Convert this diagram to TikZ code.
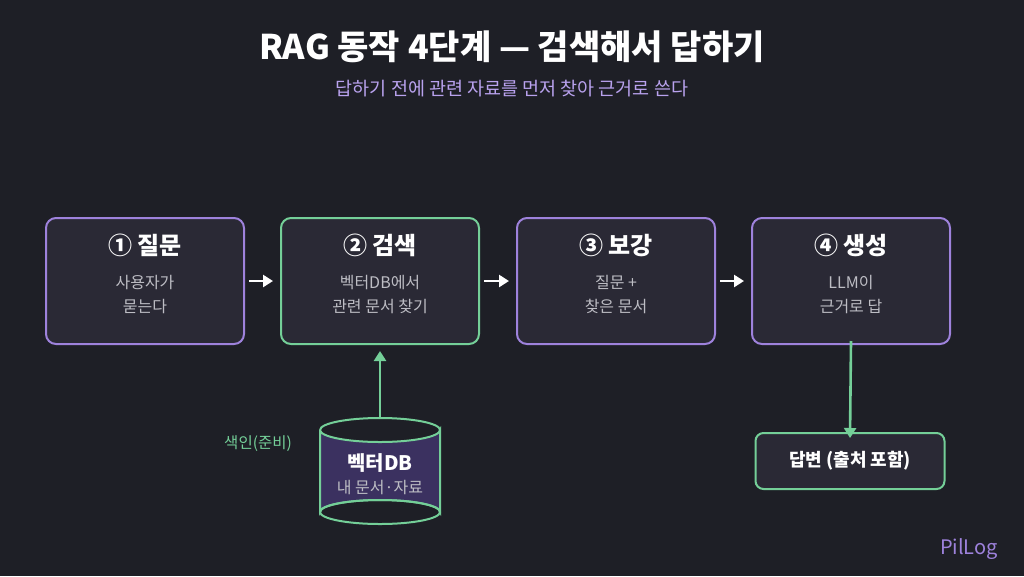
\documentclass[tikz,border=0pt]{standalone}
\usepackage{fontspec}
\setmainfont{Noto Sans CJK KR}
\usetikzlibrary{arrows.meta}
\definecolor{bg}{HTML}{1E1F26}
\definecolor{boxfill}{HTML}{2A2935}
\definecolor{pur}{HTML}{9E82DC}
\definecolor{grn}{HTML}{74CF98}
\definecolor{subc}{HTML}{B9A2EE}
\definecolor{txtg}{HTML}{BDBDC4}
\definecolor{cylf}{HTML}{3B3160}
\tikzset{
 stepbox/.style={draw, line width=2pt, rounded corners=10pt, fill=boxfill, minimum width=198pt, minimum height=126pt, anchor=north west},
 ttl/.style={text=white, font=\fontsize{24}{26}\selectfont\bfseries},
 sub/.style={text=txtg, font=\fontsize{16}{24}\selectfont, align=center},
 warr/.style={draw=white, line width=2.6pt, -{Triangle[length=10pt,width=12pt]}},
 garr/.style={draw=grn, line width=2.6pt, -{Triangle[length=10pt,width=12pt]}},
}
\begin{document}
\begin{tikzpicture}[x=1pt,y=-1pt]
\fill[bg] (0,0) rectangle (1024,576);
\useasboundingbox (0,0) rectangle (1024,576);
\node[text=white, font=\fontsize{34}{38}\selectfont\bfseries] (title) at (512,47) {RAG 동작 4단계 — 검색해서 답하기};
\node[text=subc, font=\fontsize{18.5}{22}\selectfont] (subt) at (512,89) {답하기 전에 관련 자료를 먼저 찾아 근거로 쓴다};
\node[stepbox, draw=pur] (b1) at (45,217) {};
\node[stepbox, draw=grn] (b2) at (280,217) {};
\node[stepbox, draw=pur] (b3) at (516,217) {};
\node[stepbox, draw=pur] (b4) at (751,217) {};
\foreach \b/\t/\s in {b1/① 질문/사용자가\\묻는다, b2/② 검색/벡터DB에서\\관련 문서 찾기, b3/③ 보강/질문 +\\찾은 문서, b4/④ 생성/LLM이\\근거로 답}{
 \node[ttl] at ([yshift=-28pt]\b.north) {\t};
 \node[sub] at ([yshift=-78pt]\b.north) {\s};
}
\draw[warr] ([xshift=4pt]b1.east) -- ([xshift=-7pt]b2.west);
\draw[warr] ([xshift=4pt]b2.east) -- ([xshift=-7pt]b3.west);
\draw[warr] ([xshift=4pt]b3.east) -- ([xshift=-7pt]b4.west);
% cylinder
\draw[grn, line width=2pt, fill=cylf] (320,430) -- (320,512) arc[start angle=180,end angle=360,x radius=60,y radius=12] -- (440,430) arc[start angle=0,end angle=180,x radius=60,y radius=12];
\draw[grn, line width=2pt] (380,512) ellipse[x radius=60,y radius=12];
\draw[grn, line width=2pt] (320,430) arc[start angle=180,end angle=360,x radius=60,y radius=12];
\coordinate (cyl) at (380,418);
\node[text=white, font=\fontsize{20}{22}\selectfont\bfseries] (db) at (380,463) {벡터DB};
\node[text=txtg, font=\fontsize{16}{18}\selectfont] (dbs) at (380,488) {내 문서·자료};
\node[text=grn, font=\fontsize{15.5}{18}\selectfont] (idx) at (258,444) {색인(준비)};
\draw[garr] (cyl) -- ([yshift=-6pt]b2.south);
\node[draw=grn, line width=2pt, rounded corners=8pt, fill=boxfill, minimum width=189pt, minimum height=56pt, text=white, font=\fontsize{18}{20}\selectfont\bfseries] (ans) at (850,461) {답변 (출처 포함)};
\draw[garr] ([yshift=4pt]b4.south) -- ([yshift=-6pt]ans.north);
\node[text=pur, font=\fontsize{20}{22}\selectfont] (logo) at (969,549) {PilLog};
\end{tikzpicture}
\end{document}
